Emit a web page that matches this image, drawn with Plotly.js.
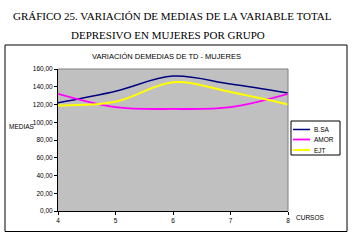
<!DOCTYPE html>
<html>
<head>
<meta charset="utf-8">
<script src="https://cdn.plot.ly/plotly-3.0.1.min.js"></script>
<style>
html,body{margin:0;padding:0;background:#fff;}
#chart{width:356px;height:241px;}
</style>
</head>
<body>
<div id="chart"></div>
<script>
// ---- data ----
var cursos = [4, 5, 6, 7, 8];
var seriesNames = ["B.SA", "AMOR", "EJT"];
var busa = [122, 135, 152, 143, 133];
var amor = [132, 117, 115, 117, 132];
var ejt  = [119, 123, 145, 134, 120];
var yTicks = [0, 20, 40, 60, 80, 100, 120, 140, 160];
var mainTitle1 = "GRÁFICO 25. VARIACIÓN DE MEDIAS DE LA VARIABLE TOTAL";
var mainTitle2 = "DEPRESIVO EN MUJERES POR GRUPO";
var chartTitle = "VARIACIÓN DEMEDIAS DE TD - MUJERES";
var yTitle = "MEDIAS";
var xTitle = "CURSOS";

// ---- styles ----
var colors = ["#000080", "#ff00ff", "#ffff00"];
var widths = [1.5, 1.8, 2];
var W = 356, H = 241, L = 58, R = 68, T = 69, B = 30;
var pw = W - L - R, ph = H - T - B;
function px(x){ return (x - L) / pw; }
function py(y){ return (H - B - y) / ph; }
var sans = "Liberation Sans, Arial, sans-serif";
var serif = "Liberation Serif, Times New Roman, serif";

var values = [busa, amor, ejt];
var traces = values.map(function(v, i){
  return {
    x: cursos, y: v, type: "scatter", mode: "lines", name: seriesNames[i],
    line: {color: colors[i], width: widths[i], shape: "spline", smoothing: 1},
    hoverinfo: "skip"
  };
});

var shapes = [
  // outer chart frame
  {type: "rect", xref: "paper", yref: "paper", x0: px(5), x1: px(347), y0: py(231.5), y1: py(45),
   line: {color: "#000", width: 1}, fillcolor: "rgba(0,0,0,0)", layer: "below"},
  // plot area border (top & right, gray)
  {type: "line", xref: "paper", yref: "paper", x0: 0, x1: 1, y0: 1, y1: 1, line: {color: "#808080", width: 1}},
  {type: "line", xref: "paper", yref: "paper", x0: 1, x1: 1, y0: 0, y1: 1, line: {color: "#808080", width: 1}},
  // legend box
  {type: "rect", xref: "paper", yref: "paper", x0: px(291), x1: px(340), y0: py(155), y1: py(121),
   line: {color: "#000", width: 1}, fillcolor: "#fff"}
];
var annotations = [
  {text: mainTitle1, x: px(172.5), y: py(16), font: {family: serif, size: 11, color: "#000"}},
  {text: mainTitle2, x: px(168), y: py(34.5), font: {family: serif, size: 11, color: "#000"}},
  {text: chartTitle, x: px(166.5), y: py(57), font: {family: sans, size: 7.5, color: "#000"}},
  {text: yTitle, x: px(22), y: py(126), font: {family: sans, size: 6.5, color: "#000"}},
  {text: xTitle, x: px(309.5), y: py(217.5), font: {family: sans, size: 6.5, color: "#000"}}
];
var legY = [129.5, 139.5, 150];
seriesNames.forEach(function(n, i){
  shapes.push({type: "line", xref: "paper", yref: "paper", x0: px(293), x1: px(310), y0: py(legY[i]), y1: py(legY[i]),
    line: {color: colors[i], width: widths[i]}});
  annotations.push({text: n, x: px(312), y: py(legY[i]), xanchor: "left",
    font: {family: sans, size: 6.5, color: "#000"}});
});
annotations.forEach(function(a){
  a.xref = "paper"; a.yref = "paper"; a.showarrow = false;
  if (!a.xanchor) a.xanchor = "center";
  a.yanchor = "middle";
});

var layout = {
  width: W, height: H,
  margin: {l: L, r: R, t: T, b: B, pad: 0},
  paper_bgcolor: "#fff",
  plot_bgcolor: "#c0c0c0",
  separators: ",.",
  showlegend: false,
  font: {family: sans, size: 6.5, color: "#000"},
  xaxis: {
    range: [4, 8], tickvals: cursos, ticktext: cursos.map(String),
    showgrid: false, zeroline: false, showline: true, linecolor: "#000", linewidth: 1,
    ticks: "outside", ticklen: 3, tickcolor: "#000", tickfont: {size: 6.5, color: "#000"}
  },
  yaxis: {
    range: [0, 160], tickvals: yTicks, tickformat: ".2f",
    showgrid: false, zeroline: false, showline: true, linecolor: "#000", linewidth: 1,
    ticks: "outside", ticklen: 3, tickcolor: "#000", tickfont: {size: 6.5, color: "#000"}
  },
  shapes: shapes,
  annotations: annotations
};

Plotly.newPlot("chart", traces, layout, {staticPlot: true, displayModeBar: false});
</script>
</body>
</html>
